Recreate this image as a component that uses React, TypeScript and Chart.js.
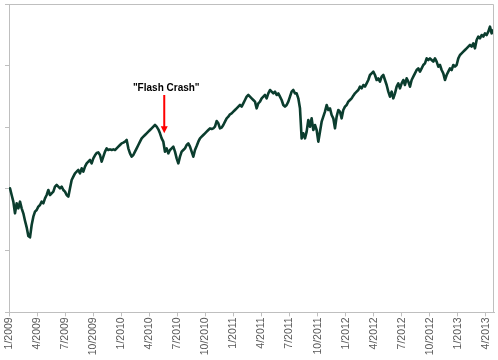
import React, { useEffect, useRef } from "react";
import { Chart, registerables } from "chart.js";

Chart.register(...registerables);

// X axis: months since 1/2009, tick every quarter
const quarterLabels = [
  "1/2009", "4/2009", "7/2009", "10/2009",
  "1/2010", "4/2010", "7/2010", "10/2010",
  "1/2011", "4/2011", "7/2011", "10/2011",
  "1/2012", "4/2012", "7/2012", "10/2012",
  "1/2013", "4/2013",
];
const quarterTickMonths = [0, 3, 6, 9, 12, 15, 18, 21, 24, 27, 30, 33, 36, 39, 42, 45, 48, 51];
const axisEndMonth = 51.86;

// Y axis (unlabelled) index level range
const yAxisMin = 0;
const yAxisMax = 925;
const yAxisStep = 185;

// Sampled series (regular sampling in months)
const firstSampleMonth = 0.107;
const sampleStepMonths = 0.1782;

const values2009 = [
  372, 352, 332, 297, 327, 312, 332, 312, 297, 275, 255, 229, 225, 262, 287, 302, 307, 317, 322, 332,
  327, 342, 352, 367, 352, 357, 362, 377, 382, 377, 372, 377, 367, 362, 352, 347, 372, 397, 407, 417,
  422, 427, 417, 432, 422, 437, 447, 452, 457, 447, 462, 471, 478, 480, 472, 452, 467, 482, 492, 487,
  489, 487, 489, 487, 492, 497, 502,
];
const values2010 = [
  507, 509, 512, 517, 492, 477, 467, 472, 482, 492, 502, 512, 522, 527, 532, 537, 542, 547, 552, 557,
  562, 557, 549, 537, 522, 512, 482, 492, 477, 487, 492, 497, 482, 462, 447, 467, 482, 487, 492, 502,
  507, 497, 482, 467, 487, 499, 512, 522, 527, 532, 537, 542, 547, 552, 550, 552, 557, 574, 567, 552,
  554, 562, 572, 582, 587, 594, 597, 602,
];
const values2011 = [
  607, 612, 617, 622, 617, 627, 637, 647, 652, 647, 642, 637, 632, 612, 627, 632, 642, 647, 652, 642,
  657, 667, 662, 657, 662, 652, 657, 647, 637, 622, 617, 622, 632, 647, 662, 667, 657, 657, 642, 612,
  522, 537, 522, 542, 577, 557, 582, 547, 562, 547, 512, 542, 572, 587, 602, 622, 607, 612, 592, 582,
  552, 587, 607, 602, 582, 607, 617,
];
const values2012 = [
  622, 632, 637, 642, 650, 657, 662, 667, 677, 672, 682, 677, 687, 697, 712, 717, 722, 712, 697, 702,
  692, 707, 712, 697, 682, 662, 647, 662, 642, 657, 677, 687, 672, 687, 697, 682, 702, 692, 677, 697,
  707, 717, 727, 732, 722, 732, 742, 747, 762, 757, 762, 757, 752, 762, 752, 737, 742, 727, 717, 697,
  712, 722, 732, 727, 742, 737, 742,
];
const values2013 = [
  762, 772, 777, 782, 787, 792, 797, 802, 797, 807, 792, 817, 827, 822, 832, 827, 837, 832, 842, 857,
  837, 847,
];

// Annotation
const flashCrashLabel = '"Flash Crash"';
const flashCrashMonth = 16.6;
const flashCrashTextValue = 664;
const flashCrashArrowTopValue = 652;
const flashCrashArrowTipValue = 537;

const lineColor = "#0b3d2e";
const axisColor = "#bfbfbf";
const labelColor = "#595959";

export default function App() {
  const ref = useRef<HTMLCanvasElement | null>(null);

  useEffect(() => {
    if (!ref.current) return;
    const all = [...values2009, ...values2010, ...values2011, ...values2012, ...values2013];
    const points = all.map((v, i) => ({ x: firstSampleMonth + i * sampleStepMonths, y: v }));

    const framePlugin = {
      id: "frameAndNote",
      afterDatasetsDraw(chart: any) {
        const { ctx, chartArea: a, scales } = chart;
        ctx.save();
        ctx.strokeStyle = axisColor;
        ctx.lineWidth = 1;
        ctx.beginPath();
        const ty = Math.round(a.top) + 0.5;
        const rx = Math.round(a.right) - 0.5;
        ctx.moveTo(a.left, ty);
        ctx.lineTo(rx, ty);
        ctx.lineTo(rx, a.bottom);
        ctx.stroke();

        const x = scales.x.getPixelForValue(flashCrashMonth);
        const yText = scales.y.getPixelForValue(flashCrashTextValue);
        const yTop = scales.y.getPixelForValue(flashCrashArrowTopValue);
        const yTip = scales.y.getPixelForValue(flashCrashArrowTipValue);

        ctx.fillStyle = "#000000";
        ctx.font = "bold 10px 'Liberation Sans', Arial, sans-serif";
        ctx.textAlign = "center";
        ctx.textBaseline = "alphabetic";
        ctx.fillText(flashCrashLabel, x + 2, yText);

        ctx.strokeStyle = "#ff0000";
        ctx.fillStyle = "#ff0000";
        ctx.lineWidth = 2;
        ctx.beginPath();
        ctx.moveTo(x, yTop);
        ctx.lineTo(x, yTip - 6);
        ctx.stroke();
        ctx.beginPath();
        ctx.moveTo(x - 3.5, yTip - 7);
        ctx.lineTo(x + 3.5, yTip - 7);
        ctx.lineTo(x, yTip);
        ctx.closePath();
        ctx.fill();
        ctx.restore();
      },
    };

    const chart = new Chart(ref.current, {
      type: "line",
      data: {
        datasets: [
          {
            data: points,
            borderColor: lineColor,
            borderWidth: 2.6,
            pointRadius: 0,
            tension: 0,
            fill: false,
            borderJoinStyle: "round",
            borderCapStyle: "round",
          },
        ],
      },
      options: {
        animation: false,
        responsive: false,
        maintainAspectRatio: false,
        parsing: false,
        normalized: true,
        layout: { padding: { top: 4, right: 4, left: 0, bottom: 0 } },
        plugins: { legend: { display: false }, tooltip: { enabled: false }, title: { display: false } },
        scales: {
          x: {
            type: "linear",
            min: 0,
            max: axisEndMonth,
            afterBuildTicks: (scale: any) => {
              scale.ticks = quarterTickMonths.map((m) => ({ value: m }));
            },
            afterFit: (scale: any) => {
              scale.height = 47.667;
              scale.paddingLeft = 0;
              scale.paddingRight = 0;
            },
            ticks: {
              autoSkip: false,
              maxRotation: 90,
              minRotation: 90,
              padding: 1,
              color: labelColor,
              font: { family: "'Liberation Sans', Arial, sans-serif", size: 10.5 },
              callback: (_v: any, i: number) => quarterLabels[i],
            },
            grid: { drawOnChartArea: false, drawTicks: true, tickLength: 4, color: axisColor },
            border: { display: true, color: axisColor, width: 1 },
          },
          y: {
            type: "linear",
            min: yAxisMin,
            max: yAxisMax,
            afterFit: (scale: any) => {
              scale.width = 9;
            },
            ticks: { stepSize: yAxisStep, display: false },
            grid: { drawOnChartArea: false, drawTicks: true, tickLength: 4, color: axisColor },
            border: { display: true, color: axisColor, width: 1 },
          },
        },
      },
      plugins: [framePlugin],
    } as any);
    return () => chart.destroy();
  }, []);

  return (
    <div style={{ position: "absolute", left: 0, top: 0, width: 498, height: 360, background: "#ffffff" }}>
      <canvas ref={ref} width={498} height={360} style={{ display: "block", width: 498, height: 360 }} />
    </div>
  );
}
